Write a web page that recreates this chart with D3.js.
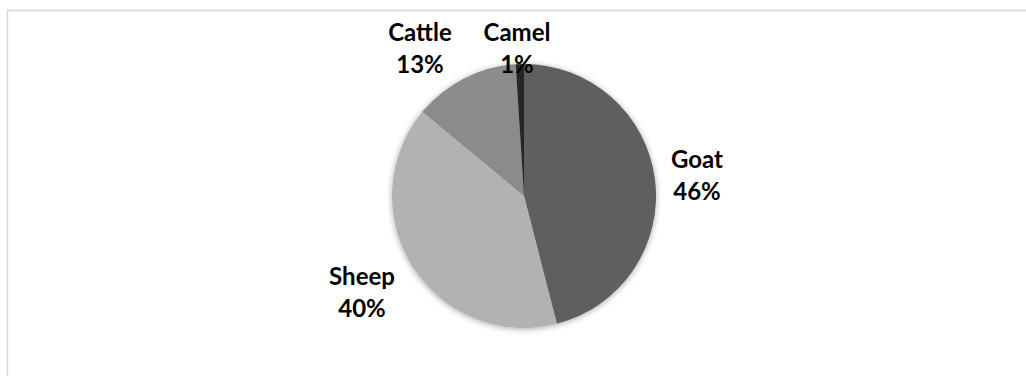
<!DOCTYPE html>
<html>
<head>
<meta charset="utf-8">
<script src="https://cdn.jsdelivr.net/npm/d3@7"></script>
<style>
  html, body { margin: 0; padding: 0; background: #fff; }
  svg { display: block; }
</style>
</head>
<body>
<svg id="chart" width="1026" height="376"></svg>
<script>
// ---- data ----
const categories = ["Goat", "Sheep", "Cattle", "Camel"];
const values = [46, 40, 13, 1];
const percentLabels = ["46%", "40%", "13%", "1%"];
const colors = ["#5f5f5f", "#b2b2b2", "#8b8b8b", "#262626"];

// ---- layout ----
const W = 1026, H = 376;
const cx = 524, cy = 196, R = 132;
// label anchor offsets from pie centre (Excel best-fit placement)
const labelOffsets = {
  Goat:   { dx: 173,  dy: -28 },
  Sheep:  { dx: -162, dy: 89 },
  Cattle: { dx: -104, dy: -155 },
  Camel:  { dx: -7,   dy: -155 }
};
const lineGap = 32;

const svg = d3.select("#chart");

// chart-area border
svg.append("rect")
  .attr("x", 7.5).attr("y", 10.5)
  .attr("width", 1040).attr("height", 400)
  .attr("fill", "#fff")
  .attr("stroke", "#d9d9d9")
  .attr("stroke-width", 1.5);

const defs = svg.append("defs");
const f = defs.append("filter").attr("id", "shadow")
  .attr("x", "-20%").attr("y", "-20%").attr("width", "140%").attr("height", "140%");
f.append("feGaussianBlur").attr("in", "SourceAlpha").attr("stdDeviation", 3).attr("result", "b");
f.append("feOffset").attr("in", "b").attr("dx", 0).attr("dy", 1).attr("result", "o");
f.append("feComponentTransfer").attr("in", "o").attr("result", "s")
  .append("feFuncA").attr("type", "linear").attr("slope", 0.35);
const m = f.append("feMerge");
m.append("feMergeNode").attr("in", "s");
m.append("feMergeNode").attr("in", "SourceGraphic");

const data = categories.map((c, i) => ({ name: c, value: values[i], label: percentLabels[i], color: colors[i] }));

const pie = d3.pie().value(d => d.value).sort(null);
const arc = d3.arc().innerRadius(0).outerRadius(R);

const g = svg.append("g").attr("transform", `translate(${cx},${cy})`);

g.append("g").attr("filter", "url(#shadow)")
  .selectAll("path")
  .data(pie(data))
  .join("path")
  .attr("d", arc)
  .attr("fill", d => d.data.color);

const labels = g.selectAll("text.lbl")
  .data(pie(data))
  .join("text")
  .attr("class", "lbl")
  .attr("text-anchor", "middle")
  .attr("font-family", "Lato, 'Open Sans', sans-serif")
  .attr("font-weight", "bold")
  .attr("font-size", 24)
  .attr("fill", "#000");

labels.append("tspan")
  .attr("x", d => labelOffsets[d.data.name].dx)
  .attr("y", d => labelOffsets[d.data.name].dy)
  .text(d => d.data.name);
labels.append("tspan")
  .attr("x", d => labelOffsets[d.data.name].dx)
  .attr("y", d => labelOffsets[d.data.name].dy + lineGap)
  .text(d => d.data.label);
</script>
</body>
</html>
